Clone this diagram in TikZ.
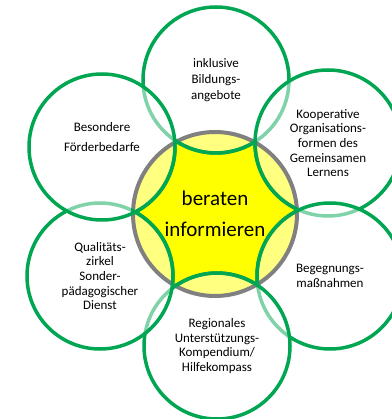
\documentclass[tikz,border=0pt]{standalone}
\usepackage{fontspec}
\setmainfont{Carlito}
\usetikzlibrary{positioning, backgrounds}
\definecolor{petalgreen}{HTML}{00A651}
\definecolor{hubgray}{HTML}{808080}
\definecolor{hubyellow}{HTML}{FFFF00}
\newcommand{\rim}[1]
{
	\draw[petalgreen, line width=3.5pt] (#1.center) circle (73pt)
}

\begin{document}
\begin{tikzpicture}[x=1pt, y=-1pt,
	petal/.style={circle, minimum size=146pt, inner sep=0pt, draw=petalgreen, line width=3.5pt, fill=white, fill opacity=0.5},
	petaltext/.style={align=center, font=\fontsize{13}{14.7}\selectfont}]

	\useasboundingbox (0,0) rectangle (391,419);

	\begin{pgfonlayer}{background}
	\fill[hubyellow] (215,214) circle (82pt);
	\end{pgfonlayer}

	\node[petal] (c1) at (216,80) {};
	\node[petal] (c2) at (328,143) {};
	\node[petal] (c3) at (330,276) {};
	\node[petal] (c4) at (217,346) {};
	\node[petal] (c5) at (100,276) {};
	\node[petal] (c6) at (102,147) {};

	\node[circle, minimum size=164pt, inner sep=0pt, draw=hubgray, line width=4pt] (m) at (215,214) {};

	\begin{scope}
	\clip (m.center) circle (84pt);
	\rim{c1};
	\rim{c2};
	\rim{c3};
	\rim{c4};
	\rim{c5};
	\rim{c6};
	\end{scope}

	\node[petaltext, font=\fontsize{13}{16}\selectfont] (t1) at (c1) {inklusive\\Bildungs-\\angebote};
	\node[petaltext] (t2) at (c2) {Kooperative\\Organisations-\\formen des\\Gemeinsamen\\Lernens};
	\node[petaltext] (t3) at (c3) {Begegnungs-\\maßnahmen};
	\node[petaltext] (t4) at (c4) {Regionales\\Unterstützungs-\\Kompendium/\\Hilfekompass};
	\node[petaltext] (t5) at (c5) {Qualitäts-\\zirkel\\Sonder-\\pädagogischer\\Dienst};
	\node[petaltext, font=\fontsize{13}{20}\selectfont] (t6) at ([yshift=10pt]c6.center) {Besondere\\Förderbedarfe};
	\node[petaltext, font=\fontsize{21}{31}\selectfont] (tm) at (m) {beraten\\informieren};
\end{tikzpicture}
\end{document}
